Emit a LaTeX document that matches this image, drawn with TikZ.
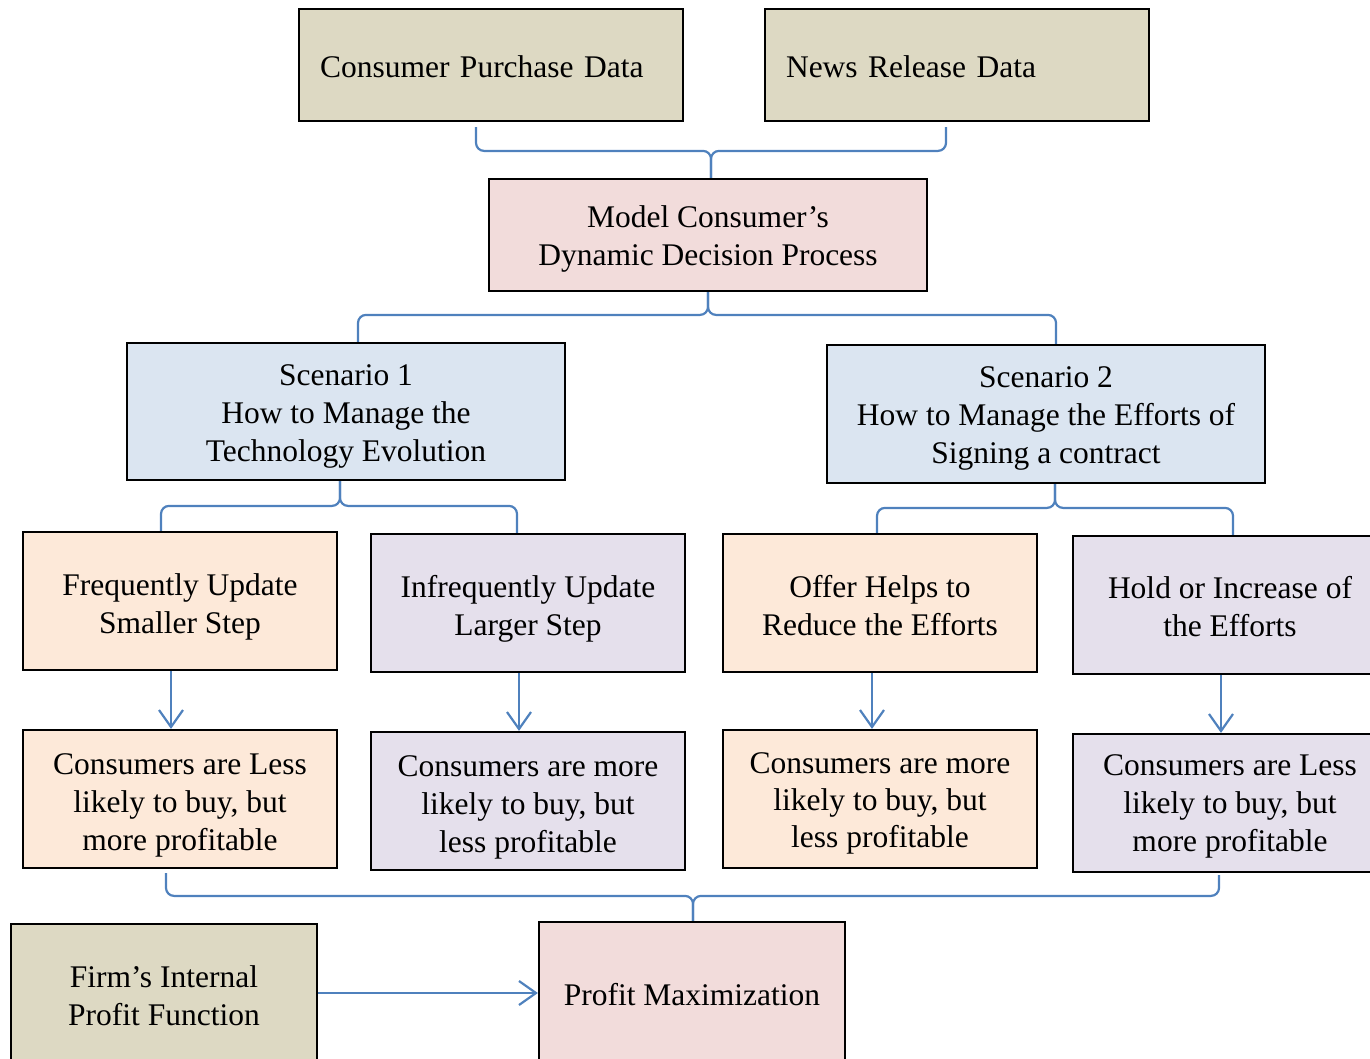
\documentclass[tikz,border=0pt]{standalone}
\usepackage{fontspec}
\setmainfont{Liberation Serif}
\usetikzlibrary{arrows.meta}
\definecolor{tanfill}{HTML}{DDD9C3}
\definecolor{pinkfill}{HTML}{F2DCDB}
\definecolor{bluefill}{HTML}{DBE5F1}
\definecolor{peachfill}{HTML}{FDE9D9}
\definecolor{lavfill}{HTML}{E5E0EC}
\definecolor{linkblue}{HTML}{4F81BD}
% a taller first line pushes a text block down by half the extra height
\newcommand\down[1]{\rule{0pt}{\dimexpr21.3pt+#1pt*2\relax}}
\begin{document}
\begin{tikzpicture}[x=1pt,y=-1pt,
  box/.style={draw=black, line width=2.2pt, inner sep=0pt, align=center,
    font=\fontsize{31.5}{38}\selectfont},
  wide/.style={minimum width=438pt},
  narrow/.style={minimum width=314pt, minimum height=138pt},
  brace/.style={draw=linkblue, line width=2.2pt, rounded corners=8pt},
  link/.style={draw=linkblue, line width=2.2pt,
    -{Straight Barb[length=17pt,width=24pt,line width=2.2pt]}}]
\useasboundingbox (0,0) rectangle (1370,1058);

% data sources
\node[box, fill=tanfill, minimum width=384pt, minimum height=112pt,
      text width=342pt, align=left] (cpd) at (491,65) {\down{2}Consumer Purchase Data};
\node[box, fill=tanfill, minimum width=384pt, minimum height=112pt,
      text width=342pt, align=left] (news) at (957,65) {\down{2}News Release Data};

% decision model
\node[box, wide, fill=pinkfill, minimum height=112pt] (model) at (708,235)
  {\down{4}Model Consumer’s\\Dynamic Decision Process};

% scenarios
\node[box, wide, fill=bluefill, minimum height=137pt] (s1) at (346,411.5)
  {\down{5}Scenario 1\\How to Manage the\\Technology Evolution};
\node[box, wide, fill=bluefill, minimum height=138pt] (s2) at (1046,414)
  {\down{4}Scenario 2\\How to Manage the Efforts of\\Signing a contract};

% strategies
\node[box, narrow, fill=peachfill] (freq) at (180,601)
  {\down{6}Frequently Update\\Smaller Step};
\node[box, narrow, fill=lavfill] (infreq) at (528,603)
  {\down{6}Infrequently Update\\Larger Step};
\node[box, narrow, fill=peachfill] (offer) at (880,603)
  {\down{3}Offer Helps to\\Reduce the Efforts};
\node[box, narrow, fill=lavfill] (hold) at (1230,605)
  {\down{2}Hold or Increase of\\the Efforts};

% outcomes
\node[box, narrow, fill=peachfill] (c1) at (180,799)
  {\down{6}Consumers are Less\\likely to buy, but\\more profitable};
\node[box, narrow, fill=lavfill] (c2) at (528,801)
  {\down{6}Consumers are more\\likely to buy, but\\less profitable};
\node[box, narrow, fill=peachfill, font=\fontsize{31.5}{37}\selectfont] (c3) at (880,799)
  {\down{4}Consumers are more\\likely to buy, but\\less profitable};
\node[box, narrow, fill=lavfill] (c4) at (1230,803)
  {\down{3}Consumers are Less\\likely to buy, but\\more profitable};

% profit
\node[box, fill=tanfill, minimum width=306pt, minimum height=142pt] (firm) at (164,995)
  {\down{1}Firm’s Internal\\Profit Function};
\node[box, fill=pinkfill, minimum width=306pt, minimum height=144pt] (profit) at (692,994)
  {\down{1}Profit Maximization};

% braces
\draw[brace] ([xshift=-15pt,yshift=-5pt]cpd.south) |- ([xshift=3pt,yshift=27pt]model.north) -- ([xshift=3pt]model.north);
\draw[brace] ([xshift=-11pt,yshift=-5pt]news.south) |- ([xshift=3pt,yshift=27pt]model.north) -- ([xshift=3pt]model.north);

\draw[brace] (model.south) |- ([xshift=12pt,yshift=27pt]s1.north) -- ([xshift=12pt]s1.north);
\draw[brace] (model.south) |- ([xshift=10pt,yshift=29pt]s2.north) -- ([xshift=10pt]s2.north);

\draw[brace] ([xshift=-6pt]s1.south) |- ([xshift=-19pt,yshift=25pt]freq.north) -- ([xshift=-19pt]freq.north);
\draw[brace] ([xshift=-6pt]s1.south) |- ([xshift=-11pt,yshift=27pt]infreq.north) -- ([xshift=-11pt]infreq.north);

\draw[brace] ([xshift=9pt]s2.south) |- ([xshift=-3pt,yshift=25pt]offer.north) -- ([xshift=-3pt]offer.north);
\draw[brace] ([xshift=9pt]s2.south) |- ([xshift=3pt,yshift=27pt]hold.north) -- ([xshift=3pt]hold.north);

\draw[brace] ([xshift=-14pt,yshift=-4pt]c1.south) |- ([xshift=1pt,yshift=25pt]profit.north) -- ([xshift=1pt]profit.north);
\draw[brace] ([xshift=-11pt,yshift=-2pt]c4.south) |- ([xshift=1pt,yshift=25pt]profit.north) -- ([xshift=1pt]profit.north);

% arrows
\draw[link] ([xshift=-9pt]freq.south) -- ([xshift=-9pt]c1.north);
\draw[link] ([xshift=-9pt]infreq.south) -- ([xshift=-9pt]c2.north);
\draw[link] ([xshift=-8pt]offer.south) -- ([xshift=-8pt]c3.north);
\draw[link] ([xshift=-9pt]hold.south) -- ([xshift=-9pt]c4.north);
\coordinate (feed) at ([yshift=2pt]firm.east);
\draw[link] (feed) -- (feed -| profit.west);
\end{tikzpicture}
\end{document}
